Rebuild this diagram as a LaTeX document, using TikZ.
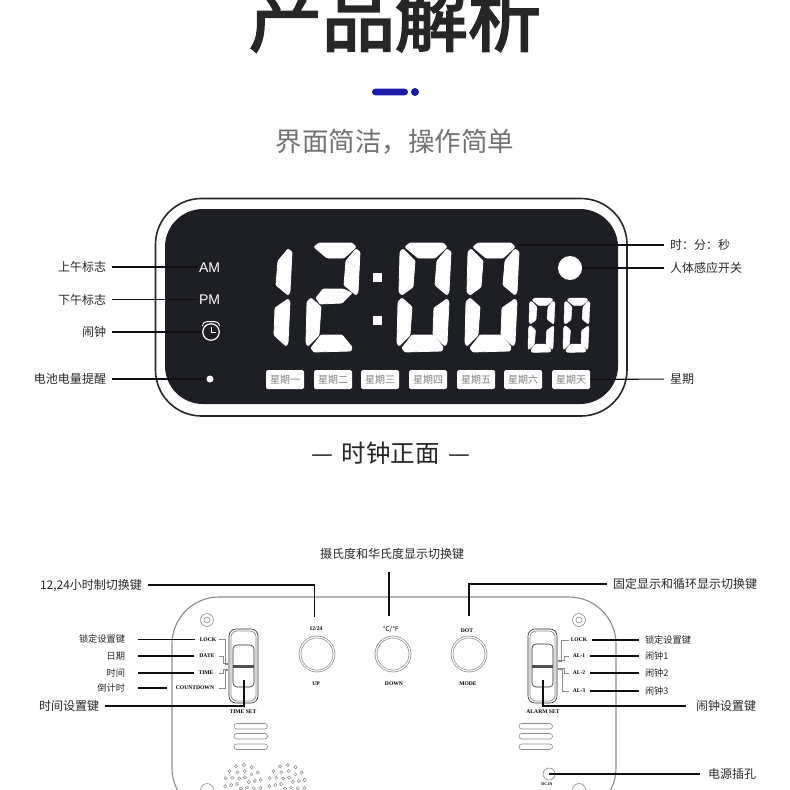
\documentclass[tikz,border=0pt]{standalone}
\usepackage{fontspec}
\usetikzlibrary{calc}
\setmainfont{Liberation Sans}
\newfontfamily\cjk{Noto Sans CJK SC}
\newfontfamily\cjkhead[FakeBold=3]{Noto Sans CJK SC}
\newfontfamily\serb{Liberation Serif}
\definecolor{panelc}{HTML}{1D1F24}
\definecolor{inkc}{HTML}{262626}
\definecolor{leadc}{HTML}{101010}
\definecolor{subc}{HTML}{717171}
\definecolor{bluec}{HTML}{1A1AA8}
\definecolor{bodyc}{HTML}{8A8A8A}
\definecolor{dayc}{HTML}{808080}
\newcommand{\fsz}[1]{\fontsize{#1}{#1}\selectfont}
\tikzset{
  ledseg/.style={fill=white, draw=white, line width=.8pt, rounded corners=1pt},
  lbl/.style={font=\cjk\fsz{12}, text=inkc, inner sep=0pt, outer xsep=6pt, text height=10.5pt, text depth=1.44pt},
  lblsm/.style={font=\cjk\fsz{9.2}, text=inkc, inner sep=0pt, outer xsep=6pt, text height=8pt, text depth=1.1pt},
  printed/.style={font=\serb\bfseries\fsz{5.6}, text=black, inner sep=0pt, outer xsep=5pt},
  lcdtxt/.style={font=\fsz{14}, text=white, inner sep=1pt, text height=11pt, text depth=1pt},
  daybox/.style={fill=white, rounded corners=1.5pt, minimum width=38pt, minimum height=19pt, inner sep=0pt,
    font=\cjk\fsz{10}, text=dayc},
  lead/.style={draw=leadc, line width=1.1pt},
  shell/.style={draw=bodyc, line width=1.1pt},
  fine/.style={draw=bodyc, line width=.4pt},
  sw/.style={draw=inkc, line width=.6pt},
  knob/.style={circle, draw=bodyc, double=white, double distance=1.2pt, line width=.7pt, minimum size=34pt, inner sep=0pt},
}
\newcommand{\sega}{\fill[ledseg] (8,4) -- (13,0) -- (46,0) -- (50,4) -- (38,15) -- (21,15) -- cycle;}
\newcommand{\segf}{\fill[ledseg] (3,9) -- (6,6) -- (18,18) -- (16,44) -- (5,52) -- (2,49) -- cycle;}
\newcommand{\segb}{\fill[ledseg] (50,6) -- (54,9) -- (52,49) -- (50,52) -- (38,42) -- (40,18) -- cycle;}
\newcommand{\segg}{\fill[ledseg] (10,55) -- (17,46) -- (37,46) -- (46,50) -- (36,60) -- (14,61) -- cycle;}
\newcommand{\sege}{\fill[ledseg] (1,59) -- (5,55) -- (15,64) -- (13,92) -- (2,103) -- (0,100) -- cycle;}
\newcommand{\segc}{\fill[ledseg] (50,56) -- (52,59) -- (50,100) -- (48,103) -- (36,92) -- (37,65) -- cycle;}
\newcommand{\segd}{\fill[ledseg] (5,105) -- (15,92) -- (36,92) -- (46,104) -- (45,108) -- (8,109) -- cycle;}
\newcommand{\leddigit}[3][1]{\begin{scope}[shift={(#2)}, scale=#1]
  \foreach \s in {#3} {\csname seg\s\endcsname}
\end{scope}}
\begin{document}
\begin{tikzpicture}[x=1pt, y=-1pt]
  \useasboundingbox (0,0) rectangle (790,790);
  \clip (0,0) rectangle (790,790);
  % heading
  \node[font=\cjkhead\fsz{73}, text=inkc, inner sep=0pt] (title) at (395,18) {产品解析};
  \fill[bluec, rounded corners=3.4pt] (372,88.6) rectangle (408,95.4);
  \node[circle, fill=bluec, minimum size=8pt, inner sep=0pt] (bluedot) at (415,92) {};
  \node[font=\cjk\fsz{26.5}, text=subc, inner sep=0pt] (subtitle) at (395,142) {界面简洁，操作简单};
  % front face
  \draw[draw=inkc, line width=1.6pt, rounded corners=46pt] (155.5,198.5) rectangle (627,416);
  \fill[panelc, rounded corners=38pt] (165,209) rectangle (618,404);
  \leddigit{238,243}{b,c}
  \leddigit{306,243}{a,b,g,e,d}
  \leddigit{397,243}{a,b,c,d,e,f}
  \leddigit{465,243}{a,b,c,d,e,f}
  \begin{scope}[ledseg/.append style={line width=.4pt}]
    \leddigit[.5]{528,298}{a,b,c,d,e,f}
    \leddigit[.5]{563,298}{a,b,c,d,e,f}
  \end{scope}
  \fill[white] (373,273) rectangle (382,282);
  \fill[white] (373,316) rectangle (382,325);
  \node[circle, fill=white, minimum size=24pt, inner sep=0pt] (sensor) at (570,268) {};
  \node[circle, fill=white, minimum size=7pt, inner sep=0pt] (batt) at (210,379) {};
  \node[lcdtxt] (am) at (209.5,267) {AM};
  \node[lcdtxt] (pm) at (209.5,299.5) {PM};
  \node[circle, draw=white, line width=1.2pt, minimum size=16.5pt, inner sep=0pt] (clock) at (211,332) {};
  \draw[white, line width=1pt] (clock.center) ++(0,-5) -- ++(0,5) -- ++(4.5,0);
  \draw[white, line width=1pt] (202.5,326) .. controls (203,322.5) and (205,321.5) .. (208,321.5) -- (214,321.5) .. controls (217,321.5) and (219,322.5) .. (219.5,326);
  \foreach \n/\x/\t in {dmon/285/星期一, dtue/333/星期二, dwed/380/星期三, dthu/428/星期四, dfri/476/星期五, dsat/523/星期六, dsun/571/星期天} {
    \node[daybox] (\n) at (\x,379.5) {\t};
  }
  % front labels
  \node[lbl, anchor=east] (lamark) at (112,267) {上午标志};
  \node[lbl, anchor=east] (lpmark) at (112,299.5) {下午标志};
  \node[lbl, anchor=east] (lalarm) at (112,332) {闹钟};
  \node[lbl, anchor=east] (lbatt) at (112,379) {电池电量提醒};
  \node[lbl, anchor=west] (ltime) at (664,245) {时：分：秒};
  \node[lbl, anchor=west] (lsensor) at (664,268) {人体感应开关};
  \node[lbl, anchor=west] (lweek) at (664,379) {星期};
  \coordinate (digtop) at (517,245);
  \draw[lead] (lamark) -- (am);
  \draw[lead] (lpmark) -- (pm);
  \draw[lead] (lalarm) -- (clock);
  \draw[lead] (lbatt) -- (batt);
  \draw[lead] (ltime) -- (digtop);
  \draw[lead] (lsensor) -- (sensor);
  \draw[lead] (lweek) -- (dsun);
  \node[font=\cjk\fsz{24.5}, text=inkc, inner sep=0pt] (facecap) at (391,453) {—\hspace{3pt} 时钟正面 \hspace{3pt}—};
  % back face
  \draw[shell, rounded corners=47pt] (172,597) rectangle (616,815);
  \foreach \x in {207,579} {
    \draw[fine, line width=.6pt] (\x,620) circle (6.5) (\x,620) circle (3);
    \draw[fine, line width=.6pt] (\x,790) circle (6.5);
  }
  % sliders
  \foreach \x/\tp/\bt in {229/645/687, 528/644/687} {
    \draw[sw, rounded corners=7pt] (\x,629) rectangle ++(29,74);
    \draw[fine, line width=.7pt, rounded corners=6pt] (\x+2,631) rectangle ++(25,70);
    \draw[sw, rounded corners=4pt] (\x+4,\tp) rectangle (\x+25,\bt);
    \fill[inkc!80] (\x+4,664.5) rectangle (\x+25,667.5);
  }
  % vents
  \foreach \x in {234,519} {
    \foreach \y in {723.5,733.5,744} {
      \draw[fine, line width=.6pt, rounded corners=2.7pt] (\x,\y) rectangle ++(33.5,5.5);
    }
  }
  % speaker holes
  \foreach \cx in {243,287} {
    \foreach \r/\k in {6/6, 12/10, 18/14} {
      \foreach \i in {1,...,\k} {
        \draw[fine, line width=.5pt] ($(\cx,783)+({\i*360/\k+10}:\r pt)$) circle (1.6);
      }
    }
  }
  % switch brackets
  \draw[fine] (219,639.5) -- (225,639.5) -- (225,664) -- (228,664);
  \draw[fine] (219,656) -- (223,656) -- (223,663) -- (228,663);
  \draw[fine] (219,673) -- (223,673) -- (223,669) -- (228,669);
  \draw[fine] (219,688) -- (225,688) -- (225,670) -- (228,670);
  \draw[fine] (569,640) -- (561,640) -- (561,661) -- (558,661);
  \draw[fine] (569,656) -- (564,656) -- (564,660) -- (558,660);
  \draw[fine] (569,673) -- (564,673) -- (564,668) -- (558,668);
  \draw[fine] (569,691) -- (562,691) -- (562,669) -- (558,669);
  % printed marks
  \foreach \n/\x/\y/\t in {mlockl/208/639.5/LOCK, mdate/207/656/DATE, mtime/206/673/TIME, mcount/195/688/COUNTDOWN, mtset/243/712/TIME SET,
    mlockr/579/640/LOCK, mal1/579/656/AL-1, mal2/579/673/AL-2, mal3/579/691/AL-3, maset/543/712/ALARM SET,
    mup/316/684/UP, mdown/394/684/DOWN, mmode/468/684/MODE, m1224/316/629/{12/24}, mdot/467/631/DOT} {
    \node[printed] (\n) at (\x,\y) {\t};
  }
  \node[printed, font=\cjk\fsz{6.5}] (mdeg) at (391,629) {℃/℉};
  \node[printed, font=\serb\bfseries\fsz{4}] (mdc) at (547,784) {DC.IN};
  \node[knob] (kup) at (317,654) {};
  \node[knob] (kdown) at (393,654) {};
  \node[knob] (kmode) at (469,654) {};
  \node[circle, fine, draw, line width=.6pt, minimum size=12pt, inner sep=0pt] (jack) at (549,774) {};
  % back labels, left
  \node[lblsm, outer xsep=13pt, anchor=east] (llock) at (138,639.5) {锁定设置键};
  \node[lblsm, outer xsep=13pt, anchor=east] (ldate) at (138,656) {日期};
  \node[lblsm, outer xsep=13pt, anchor=east] (ltm) at (138,673) {时间};
  \node[lblsm, outer xsep=13pt, anchor=east] (lcount) at (138,688) {倒计时};
  \node[lbl, anchor=east] (ltset) at (105,706) {时间设置键};
  \coordinate (cntend) at (167,688);
  \draw[lead] (llock) -- (mlockl);
  \draw[lead] (ldate) -- (mdate);
  \draw[lead] (ltm) -- (mtime);
  \draw[lead] (lcount) -- (cntend);
  \coordinate (tslide) at (244,680);
  \draw[lead] (ltset) -| (tslide);
  % back labels, right
  \node[lblsm, anchor=west] (rlock) at (639,640) {锁定设置键};
  \node[lblsm, anchor=west] (ral1) at (639,656) {闹钟1};
  \node[lblsm, anchor=west] (ral2) at (639,673) {闹钟2};
  \node[lblsm, anchor=west] (ral3) at (639,691) {闹钟3};
  \node[lbl, outer xsep=10pt, anchor=west] (raset) at (686,706) {闹钟设置键};
  \node[lbl, outer xsep=8pt, anchor=west] (rpower) at (700,774) {电源插孔};
  \draw[lead] (mlockr) -- (rlock);
  \draw[lead] (mal1) -- (ral1);
  \draw[lead] (mal2) -- (ral2);
  \draw[lead] (mal3) -- (ral3);
  \coordinate (aslide) at (543,680);
  \draw[lead] (raset) -| (aslide);
  \draw[lead] (rpower) -- (jack.center);
  % back labels, top
  \node[lbl] (ldeg) at (392,553.5) {摄氏度和华氏度显示切换键};
  \node[lbl, anchor=west] (l1224) at (34,585) {12,24小时制切换键};
  \node[lbl, anchor=east] (ldotm) at (763,584) {固定显示和循环显示切换键};
  \coordinate (tup) at (314.5,617);
  \coordinate (tdegup) at (389,572);
  \coordinate (tdown) at (389,616);
  \coordinate (tmode) at (469,616);
  \draw[lead] (tdegup) -- (tdown);
  \draw[lead] (l1224) -| (tup);
  \draw[lead] (ldotm) -| (tmode);
\end{tikzpicture}
\end{document}
